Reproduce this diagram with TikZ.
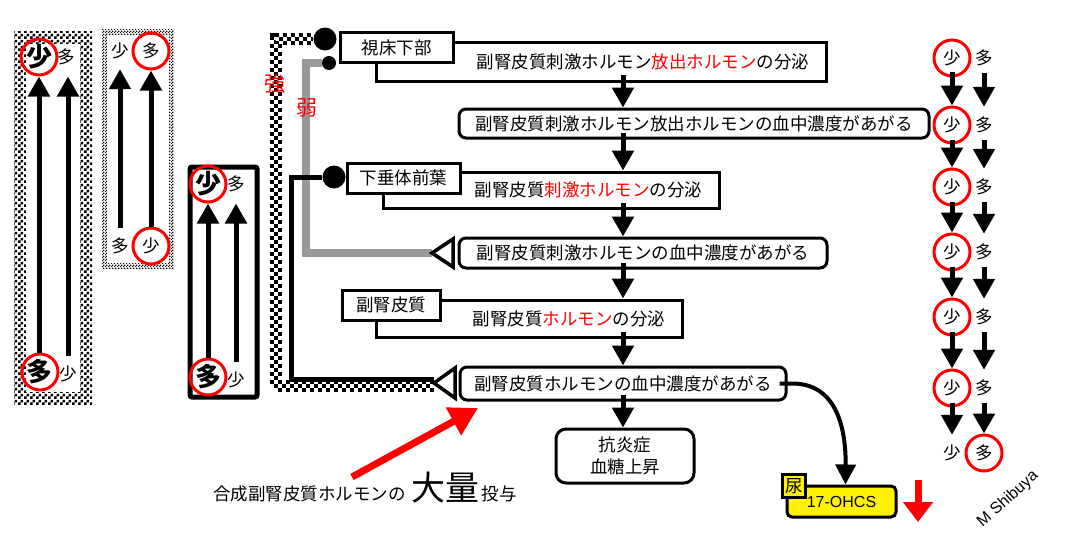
\documentclass[tikz,border=0pt]{standalone}
\usepackage{fontspec}
\setmainfont{Noto Sans CJK JP}
\newfontfamily\latfont{Liberation Sans}
\usetikzlibrary{arrows.meta,patterns,calc}
\newcommand{\jfs}{\fontsize{17.5}{22}\selectfont}
\pgfdeclarepatternformonly{bigcheck}{\pgfqpoint{0pt}{0pt}}{\pgfqpoint{6pt}{6pt}}{\pgfqpoint{6pt}{6pt}}{%
    \pgfpathrectangle{\pgfqpoint{0pt}{0pt}}{\pgfqpoint{3.05pt}{3.05pt}}%
    \pgfpathrectangle{\pgfqpoint{3pt}{3pt}}{\pgfqpoint{3.05pt}{3.05pt}}%
    \pgfusepath{fill}}
\pgfdeclarepatternformonly{finecheck}{\pgfqpoint{0pt}{0pt}}{\pgfqpoint{3pt}{3pt}}{\pgfqpoint{3pt}{3pt}}{%
    \pgfpathrectangle{\pgfqpoint{0pt}{0pt}}{\pgfqpoint{1.55pt}{1.55pt}}%
    \pgfpathrectangle{\pgfqpoint{1.5pt}{1.5pt}}{\pgfqpoint{1.55pt}{1.55pt}}%
    \pgfusepath{fill}}
\tikzstyle{procbox} = [draw=black, line width=3pt, rectangle, fill=white, align=right, inner xsep=17pt, inner ysep=0pt, font=\jfs]
\tikzstyle{namebox} = [draw=black, line width=3pt, rectangle, fill=white, inner sep=0pt, minimum height=30pt, font=\jfs]
\tikzstyle{levelbox} = [draw=black, line width=3pt, rectangle, rounded corners=7pt, fill=white, inner sep=0pt, font=\jfs]
\tikzstyle{yellowbox} = [draw=black, line width=3pt, fill=yellow, rounded corners=5pt, minimum width=109pt, minimum height=31pt, inner sep=0pt, font=\latfont\fontsize{16}{16}\selectfont]
\tikzstyle{flow} = [line width=5pt, -{Triangle[length=20pt,width=21pt]}, shorten <=-7pt]
\tikzstyle{uparrow} = [line width=5pt, -{Triangle[length=20pt,width=21pt]}]
\tikzstyle{cell} = [circle, minimum size=36pt, inner sep=0pt, font=\jfs]
\tikzstyle{redring} = [cell, draw=red, line width=3pt]
\tikzstyle{bigcell} = [font=\fontsize{26}{26}\selectfont\bfseries]
\tikzstyle{strong} = [line width=12pt, draw=black, line join=miter, dash pattern=on 4pt off 4pt,
    postaction={draw=black, line width=4pt, dash pattern=on 4pt off 4pt, dash phase=4pt},
    postaction={draw=white, line width=4pt, dash pattern=on 4pt off 4pt}]
\tikzstyle{weak} = [line width=8pt, black!40, line join=miter]
\tikzstyle{direct} = [line width=5pt, black, line join=miter]
\tikzstyle{opentri} = [draw=black, line width=3.5pt, fill=white, line join=miter]
\tikzstyle{dot} = [circle, fill=black, inner sep=0pt]
\tikzstyle{redarrow} = [red, line width=7pt]

\begin{document}
\begin{tikzpicture}[x=1pt, y=-1pt]
    \useasboundingbox (0,0) rectangle (1068,543);

    % left panels
    \fill[pattern=bigcheck] (14,32) rectangle (92,404);
    \fill[white] (26,44) rectangle (80,392);
    \node[redring, bigcell] (pa1) at (39,57) {少};
    \node[cell] (pa2) at (66,57) {多};
    \node[redring, bigcell] (pa3) at (40,372) {多};
    \node[cell] (pa4) at (68,374) {少};
    \draw[uparrow] (pa3.north -| pa1) -- (pa1.south);
    \draw[uparrow] (pa4.north) -- (pa4 |- pa1.south);

    \fill[pattern=finecheck] (102,30) rectangle (174,268);
    \fill[white] (107,35) rectangle (169,263);
    \node[cell] (pb1) at (120,51) {少};
    \node[redring] (pb2) at (151,51) {多};
    \node[cell] (pb3) at (120,246) {多};
    \node[redring] (pb4) at (151,246) {少};
    \draw[uparrow] (pb3.north) -- (pb1.south);
    \draw[uparrow] (pb4.north) -- (pb2.south);

    \draw[line width=5pt, rounded corners=2pt, fill=white] (190,167) rectangle (257,397);
    \node[redring, bigcell] (pc1) at (208,184) {少};
    \node[cell] (pc2) at (236,184) {多};
    \node[redring, bigcell] (pc3) at (208,377) {多};
    \node[cell] (pc4) at (236,380) {少};
    \draw[uparrow] (pc3.north) -- (pc1.south);
    \draw[uparrow] (pc4.north) -- (pc4 |- pc1.south);

    % feedback
    \coordinate (sx) at (276,0);
    \coordinate (wx) at (306,0);
    \coordinate (bx) at (291,0);
    \coordinate (triA) at (432,253);
    \coordinate (triC) at (434,383);
    \node[dot, minimum size=23pt] (dotH) at (325,39) {};
    \node[dot, minimum size=14pt] (dotW) at (329,63) {};
    \node[dot, minimum size=23pt] (dotA) at (334,177) {};
    \draw[strong] ([yshift=-3pt]triC) -| (sx |- dotH) -- (dotH.west);
    \draw[weak] (triA) -| (wx |- dotW) -- (dotW.west);
    \draw[direct] ([yshift=4pt]triC) -| (bx |- dotA) -- (dotA.west);
    \draw[opentri] (triA) -- ++(21,-14) -- ++(0,28) -- cycle;
    \draw[opentri] (triC) -- ++(21,-15) -- ++(0,30) -- cycle;
    \node[text=red, font=\fontsize{21}{21}\selectfont] (kyo) at (275,84) {強};
    \node[text=red, font=\fontsize{21}{21}\selectfont] (jaku) at (307,108) {弱};

    % main flow
    \node[procbox, text width=416pt, minimum height=38pt] (secH) at (601,62) {副腎皮質刺激ホルモン\textcolor{red}{放出ホルモン}の分泌};
    \node[namebox, minimum width=113pt] (tagH) at (396.5,48) {視床下部};
    \node[levelbox, minimum width=470pt, minimum height=29pt] (lvH) at (694,123.5) {副腎皮質刺激ホルモン放出ホルモンの血中濃度があがる};
    \node[procbox, text width=302pt, minimum height=36pt] (secA) at (551,190) {副腎皮質\textcolor{red}{刺激ホルモン}の分泌};
    \node[namebox, minimum width=113pt] (tagA) at (403.5,178) {下垂体前葉};
    \node[levelbox, minimum width=368pt, minimum height=30pt] (lvA) at (643,253) {副腎皮質刺激ホルモンの血中濃度があがる};
    \node[procbox, text width=272pt, minimum height=37pt] (secC) at (529,318.5) {副腎皮質\textcolor{red}{ホルモン}の分泌};
    \node[namebox, minimum width=98pt] (tagC) at (391,305) {副腎皮質};
    \node[levelbox, minimum width=326pt, minimum height=33pt] (lvC) at (623,383.5) {副腎皮質ホルモンの血中濃度があがる};
    \node[levelbox, rounded corners=10pt, align=center, minimum width=138pt, minimum height=54pt] (eff) at (625,456) {抗炎症\\血糖上昇};

    \coordinate (ax) at (623,0);
    \foreach \a/\b in {secH/lvH, lvH/secA, secA/lvA, lvA/secC, secC/lvC, lvC/eff}
        \draw[flow] (\a.south -| ax) -- (\b.north -| ax);

    % urine
    \node[yellowbox] (ohcs) at (841.5,501.5) {17-OHCS};
    \node[draw=black, line width=3pt, fill=yellow, minimum size=23pt, inner sep=0pt, font=\jfs] (urine) at (794,486) {尿};
    \draw[line width=4pt, -{Triangle[length=20pt,width=20pt]}] ([xshift=-8pt]lvC.east) -- ++(12,0) .. controls (835,383) and (846,425) .. ([xshift=4pt]ohcs.north);
    \coordinate (dn1) at (918,480);
    \coordinate (dn2) at (918,522);
    \draw[redarrow, -{Triangle[length=20pt,width=29pt]}] (dn1) -- (dn2);

    % dose
    \node[anchor=base west, inner sep=0pt, font=\jfs] (dose) at (213,500) {合成副腎皮質ホルモンの\hspace{6pt}{\fontsize{34}{34}\selectfont 大量}\hspace{2pt}投与};
    \coordinate (doseTail) at (352,477);
    \coordinate (doseTip) at (478,408);
    \draw[redarrow, -{Triangle[length=28pt,width=30pt]}] (doseTail) -- (doseTip);

    % right column
    \foreach \i/\y/\sl/\sr in {1/58/redring/cell, 2/125/redring/cell, 3/187/redring/cell, 4/252/redring/cell, 5/317/redring/cell, 6/388/redring/cell, 7/453/cell/redring} {
        \node[\sl] (L\i) at (952,\y) {少};
        \node[\sr] (R\i) at (984,\y) {多};
    }
    \foreach \i/\j in {1/2, 2/3, 3/4, 4/5, 5/6, 6/7} {
        \draw[flow, shorten <=-5pt] (L\i.south) -- (L\j.north);
        \draw[flow, shorten <=-3pt] (R\i.south) -- (R\j.north);
    }

    \node[rotate=42, font=\latfont\fontsize{16}{16}\selectfont] (sig) at (1008,499) {M Shibuya};
\end{tikzpicture}
\end{document}
